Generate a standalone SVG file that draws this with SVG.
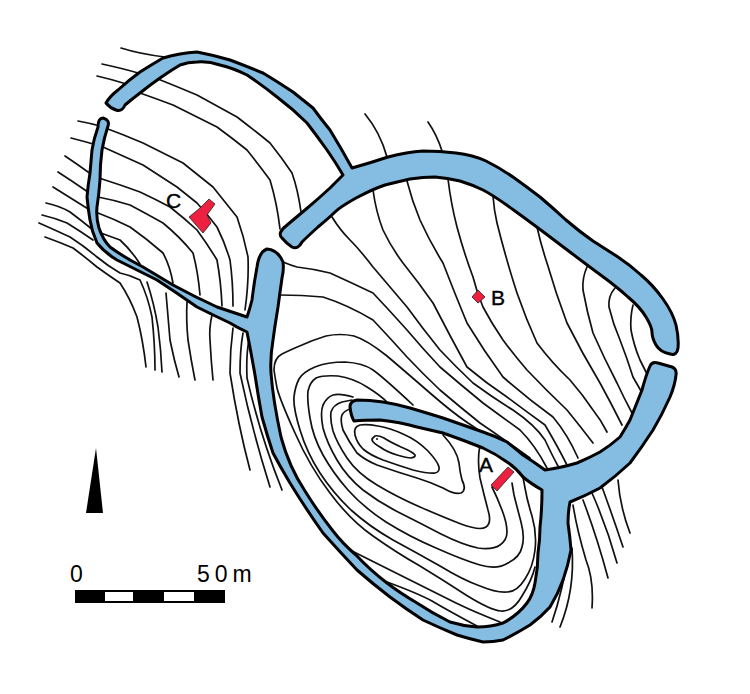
<svg xmlns="http://www.w3.org/2000/svg" width="750" height="694" viewBox="0 0 750 694">
<style>
.c{fill:none;stroke:#111;stroke-width:1.7;stroke-linecap:round;stroke-linejoin:round}
.r{fill:#85bce1;stroke:#000;stroke-width:3;stroke-linejoin:round}
.t{fill:#ee2040;stroke:#222;stroke-width:.8}
.l{font-family:"Liberation Sans",Arial,sans-serif;font-size:21px;fill:#000;stroke:#000;stroke-width:.4}
.s{font-family:"Liberation Sans",Arial,sans-serif;font-size:23px;fill:#000}
</style>
<rect width="750" height="694" fill="#fff"/>
<g id="contours">
<path class="c" d="M121,48 Q140,54 165,57"/>
<path class="c" d="M102,64 Q125,69 138,73 Q148,75 158,79 Q178,87 197,95 Q217,106 237,117 Q254,130 270,143 Q282,158 292,173 Q298,190 301,212"/>
<path class="c" d="M97,76 Q110,79 123,83 Q132,88 140,93 Q157,99 173,105 Q195,116 217,127 Q232,138 247,150 Q259,165 270,180 Q277,203 280,229"/>
<path class="c" d="M78,121 Q89,123 100,126 Q122,134 143,143 Q163,153 183,163 Q198,175 213,187 Q225,202 237,217 Q244,237 248,257 Q249,282 245,310"/>
<path class="c" d="M71,138 Q87,142 103,147 Q123,156 143,165 Q160,176 177,187 Q187,195 197,203 Q208,215 217,227 Q225,243 230,260 Q233,282 233,306"/>
<path class="c" d="M65,156 Q77,164 88,172 Q95,177 102,179 Q121,185 140,192 Q155,199 170,207 Q184,218 197,230 Q208,245 217,260 Q221,282 222,306"/>
<path class="c" d="M58,172 Q72,181 85,190 Q91,195 98,197 Q114,200 130,205 Q147,214 163,223 Q180,237 193,253 Q198,272 200,295"/>
<path class="c" d="M53,187 Q69,197 85,207 Q91,211 98,213 Q114,219 130,227 Q147,239 163,253 Q170,266 173,283"/>
<path class="c" d="M46,203 Q60,206 70,212 Q82,221 93,230 Q106,235 120,240 Q131,250 140,264"/>
<path class="c" d="M42,215 Q55,218 67,223 Q80,231 93,240"/>
<path class="c" d="M39,223 Q55,230 70,237 Q84,246 97,257 Q108,266 120,273 Q130,275 140,280 Q148,297 152,317 Q155,345 155,370"/>
<path class="c" d="M45,237 Q59,242 73,248 Q85,257 97,267 Q108,275 120,283 Q130,298 137,317 Q143,340 146,367"/>
<path class="c" d="M147,282 Q154,303 158,327 Q161,350 162,372"/>
<path class="c" d="M166,293 Q168,317 170,340 Q174,360 179,377"/>
<path class="c" d="M187,302 Q186,320 188,340 Q191,360 195,380"/>
<path class="c" d="M212,315 Q209,328 210,340 Q211,360 213,380"/>
<path class="c" d="M233,328 Q230,350 230,373 Q238,425 250,470"/>
<path class="c" d="M243,333 Q240,350 240,373 Q252,430 270,487"/>
<path class="c" d="M249,340 Q246,355 247,378 Q260,435 282,490"/>
<path class="c" d="M365,114 Q380,132 387,157"/>
<path class="c" d="M428,122 Q437,135 442,151"/>
<path class="c" d="M373,190 Q376,212 383,230 Q391,247 403,263 Q419,283 433,303 Q450,336 467,367 Q486,383 507,397 Q527,412 545,425 Q558,447 567,465"/>
<path class="c" d="M407,181 Q412,201 420,220 Q430,242 443,263 Q455,294 467,323 Q484,351 503,377 Q527,398 553,417 Q568,435 578,458"/>
<path class="c" d="M448,179 Q451,204 457,227 Q464,253 473,277 Q477,293 483,307 Q492,324 503,340 Q514,355 527,370 Q546,390 567,410 Q580,426 593,443"/>
<path class="c" d="M493,196 Q494,210 497,223 Q506,259 517,293 Q526,319 537,343 Q552,363 570,380 Q583,395 593,410 Q601,420 607,432"/>
<path class="c" d="M537,227 Q541,245 547,263 Q556,294 567,323 Q582,353 600,383 Q611,403 622,425"/>
<path class="c" d="M587,267 Q582,278 583,290 Q587,312 593,333 Q604,358 617,383 Q624,398 632,413"/>
<path class="c" d="M615,288 Q608,296 609,307 Q613,324 620,340 Q627,358 633,377 Q637,384 641,391"/>
<path class="c" d="M633,305 Q630,317 631,330 Q634,346 640,360 Q644,368 648,376"/>
<path class="c" d="M332,217 Q340,230 350,240 Q360,250 373,267 Q390,287 407,307 Q423,329 440,350 Q456,367 473,383 Q492,397 513,410 Q535,425 545,440 Q552,455 558,466"/>
<path class="c" d="M283,262 Q290,265 297,267 Q314,269 330,273 Q352,283 373,293 Q390,311 407,330 Q423,349 440,367 Q461,385 483,403 Q502,417 520,430 Q535,445 547,468"/>
<path class="c" d="M280,295 Q302,295 323,297 Q348,305 373,320 Q390,338 407,357 Q423,374 440,390 Q460,407 480,423 Q505,440 530,458"/>
<path class="c" d="M535,567 Q532,580 522,596 Q513,612 501,611 Q490,610 466,595 Q443,580 420,566 Q397,553 373,536 Q350,520 330,493 Q310,467 295,433 Q280,400 277,388 Q275,377 274,370 Q274,358 282,354 Q290,350 302,345 Q313,340 326,336 Q340,333 354,336 Q367,340 387,356 Q407,373 430,393 Q453,413 468,423 Q482,432 486,436"/>
<path class="c" d="M350,550 Q390,570 410,580 Q430,590 456,603 Q470,610 500,622"/>
<path class="c" d="M387,582 Q417,593 432,601 Q447,610 477,626"/>
<path class="c" d="M413,405 Q383,377 373,370 Q363,363 345,362 Q327,362 315,367 Q303,372 299,379 Q295,387 294,397 Q293,407 300,430 Q307,453 320,473 Q333,493 351,510 Q370,527 393,540 Q417,553 440,566 Q463,580 480,586 Q497,593 507,592 Q517,592 525,579 Q533,567 535,550 Q537,533 532,516 Q527,500 525,488 L523,477"/>
<path class="c" d="M387,402 Q380,395 367,387 Q353,378 338,376 Q323,375 316,378 Q310,382 308,391 Q307,400 310,418 Q313,437 323,455 Q333,473 348,490 Q363,507 386,522 Q410,537 436,548 Q463,560 480,565 Q497,570 508,563 Q520,557 522,547 Q525,537 521,522 Q517,507 514,495 L512,483"/>
<path class="c" d="M492,487 Q497,497 502,510 Q507,523 507,532 Q507,540 500,545 Q493,550 478,548 Q463,545 441,534 Q420,523 400,513 Q380,503 363,490 Q347,477 337,460 Q327,443 323,428 Q320,413 323,405 Q327,397 333,395 Q340,393 353,397"/>
<path class="c" d="M480,445 Q477,460 480,478 Q484,495 488,510 Q492,523 486,527 Q480,531 461,524 Q443,517 420,507 Q397,497 377,485 Q357,473 347,458 Q337,443 333,431 Q330,420 331,412 Q333,405 342,402 L352,400"/>
<path class="c" d="M443,435 Q457,450 459,463 Q460,473 462,480 Q467,490 461,493 Q455,495 443,488 Q430,482 417,478 Q397,472 377,465 Q365,460 357,453 Q349,442 343,430 Q340,420 342,415 Q344,411 350,409"/>
<path class="c" d="M360,425 Q367,424 378,426 Q390,428 403,434 Q417,440 428,451 Q438,462 439,467 Q440,472 435,473 Q430,474 413,470 Q397,465 383,460 Q370,455 363,449 Q357,443 355,435 Q353,427 360,425Z"/>
<path class="c" d="M375,436 Q378,435 384,438 Q390,442 401,447 Q413,452 415,455 Q416,457 411,458 Q407,458 397,455 Q387,452 380,447 Q373,443 372,440 Q372,438 375,436Z"/>
<circle cx="377" cy="439" r="1" fill="#111"/>
<path class="c" d="M569,550 Q563,590 552,622"/>
<path class="c" d="M572,548 Q575,590 560,627"/>
<path class="c" d="M573,505 Q577,530 586,560 Q594,580 592,608"/>
<path class="c" d="M583,500 Q597,537 608,578"/>
<path class="c" d="M592,493 Q607,527 617,563"/>
<path class="c" d="M602,487 Q613,517 623,547"/>
<path class="c" d="M618,480 Q620,507 630,533"/>
</g>
<g id="ramparts">
<path class="r" d="M106,103 Q110,96 118,90 Q129,80 140,72 Q151,65 163,58 Q180,53 197,52 Q213,55 230,60 Q246,66 263,73 Q278,82 293,92 Q303,100 313,108 Q321,119 330,130 Q341,148 352,168 Q370,163 388,157 Q407,152 423,151 Q440,151 456,153 Q473,155 486,161 Q500,168 513,177 Q527,187 540,197 Q553,208 566,220 Q580,232 593,241 Q607,250 618,257 Q630,265 641,275 Q653,285 663,299 Q673,313 676,325 Q679,338 678,348 Q677,356 670,354 Q660,352 656,345 Q652,338 652,332 Q652,327 646,317 Q640,307 628,297 Q617,287 602,276 Q587,265 562,246 Q537,227 515,211 Q493,195 483,190 Q473,185 460,181 Q447,178 435,177 Q423,177 410,179 Q397,182 385,185 Q373,189 356,198 Q340,207 335,212 Q330,217 318,227 Q307,237 302,242 Q298,250 292,247 Q286,243 282,238 Q277,233 286,226 Q293,220 305,210 Q317,200 330,188 L343,175 Q336,163 327,150 Q317,136 307,123 Q293,109 277,97 Q262,85 247,75 Q233,68 220,65 Q208,61 197,62 Q188,62 180,65 Q170,71 160,78 Q150,85 140,93 Q132,99 125,105 Q122,112 116,110 Q110,108 106,103Z"/>
<path class="r" d="M103,118 Q110,120 108,126 Q104,138 102,150 Q100,165 100,180 Q99,194 97,207 Q96,218 99,228 Q103,240 110,247 Q125,258 143,267 Q158,276 173,285 Q195,297 217,307 Q232,312 247,317 Q250,308 252,300 Q254,283 257,267 Q259,252 267,249 Q278,250 283,262 Q284,270 282,278 Q280,292 278,307 Q275,325 273,340 Q270,358 271,373 Q273,400 281,437 Q289,467 305,491 Q318,512 333,531 Q343,544 356,555 Q370,570 387,583 Q400,593 417,603 Q432,613 450,622 Q463,626 477,627 Q491,627 503,623 Q518,615 527,603 Q533,595 535,583 Q538,568 538,553 Q540,540 540,527 Q542,510 542,490 Q530,483 523,477 Q516,468 507,462 Q496,454 483,448 Q463,440 443,433 Q430,430 417,427 Q400,422 380,420 Q365,420 354,421 Q351,416 350,407 Q350,401 357,400 Q370,400 383,402 Q396,404 410,408 Q427,413 443,418 Q463,425 483,432 Q495,436 507,442 Q515,448 523,455 Q534,462 545,470 Q560,468 577,463 Q589,458 600,452 Q611,445 620,437 Q625,429 630,420 Q636,405 642,390 Q646,375 650,366 Q652,361 658,363 Q665,365 672,367 Q677,369 676,375 Q675,385 670,397 Q662,415 653,430 Q642,447 630,463 Q615,477 600,488 Q585,496 570,502 Q568,512 568,523 Q570,537 571,550 Q568,566 563,580 Q558,594 550,607 Q541,617 530,625 Q517,633 503,640 Q493,642 483,642 Q470,639 457,635 Q440,628 423,620 Q406,609 390,597 Q373,584 357,570 Q340,552 323,533 Q306,509 290,483 Q281,468 273,453 Q267,435 262,417 Q258,395 255,375 Q251,352 247,332 Q238,328 230,323 Q213,315 197,307 Q177,293 157,280 Q137,270 117,260 Q105,253 97,243 Q92,232 90,220 Q88,208 87,197 Q88,185 90,173 Q91,162 92,150 Q94,138 98,127 Q98,118 103,118Z"/>
</g>
<g id="trenches">
<polygon class="t" points="508,467 514,472 497,491 491,485"/>
<polygon class="t" points="478,290 485,297 478,303 472,297"/>
<polygon class="t" points="209,199 215,204 207,215 211,223 203,233 189,217 200,208"/>
</g>
<g id="labels">
<text class="l" x="479" y="472">A</text>
<text class="l" x="491" y="305">B</text>
<text class="l" x="166" y="208">C</text>
</g>
<g id="north-arrow"><polygon points="96,448 86,513 103,513" fill="#000"/></g>
<g id="scale">
<rect x="75" y="590" width="150" height="13" fill="#000"/>
<rect x="105" y="592" width="28" height="9" fill="#fff"/>
<rect x="164" y="592" width="30" height="9" fill="#fff"/>
<text class="s" x="70" y="582">0</text>
<text class="s" x="197" y="582" letter-spacing="5">50m</text>
</g>
</svg>
